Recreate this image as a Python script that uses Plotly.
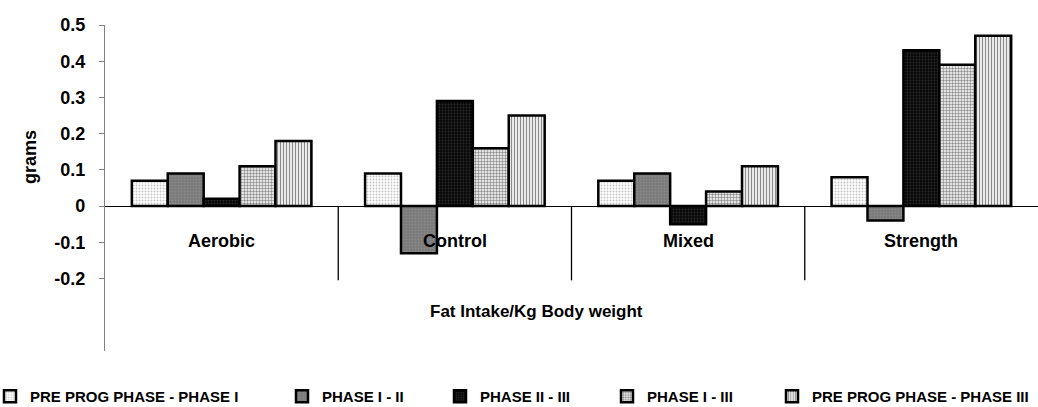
import plotly.graph_objects as go

categories = ["Aerobic", "Control", "Mixed", "Strength"]
series_names = ["PRE PROG PHASE - PHASE I", "PHASE I - II", "PHASE II - III",
                "PHASE I - III", "PRE PROG PHASE - PHASE III"]
pre_phase1 = [0.07, 0.09, 0.07, 0.08]
phase1_2 = [0.09, -0.13, 0.09, -0.04]
phase2_3 = [0.02, 0.29, -0.05, 0.43]
phase1_3 = [0.11, 0.16, 0.04, 0.39]
pre_phase3 = [0.18, 0.25, 0.11, 0.47]
series_values = [pre_phase1, phase1_2, phase2_3, phase1_3, pre_phase3]
y_tickvals = [-0.2, -0.1, 0, 0.1, 0.2, 0.3, 0.4, 0.5]
y_ticktext = ["-0.2", "-0.1", "0", "0.1", "0.2", "0.3", "0.4", "0.5"]

FONT = "Arial, Liberation Sans, sans-serif"
W, H = 1038, 407
L, R, T, B = 105, 0, 25, 56
PW, PH = W - L - R, H - T - B

patterns = [
    dict(shape=".", bgcolor="#ffffff", fgcolor="#c4c4c4", size=3, solidity=0.3),
    dict(shape=".", bgcolor="#7a7a7a", fgcolor="#8a8a8a", size=3, solidity=0.3),
    dict(shape=".", bgcolor="#080808", fgcolor="#2a2a2a", size=3, solidity=0.3),
    dict(shape=".", bgcolor="#ffffff", fgcolor="#8c8c8c", size=3, solidity=0.5),
    dict(shape="|", bgcolor="#ffffff", fgcolor="#8a8a8a", size=3, solidity=0.45),
]
fill_colors = ["#ffffff", "#7a7a7a", "#080808", "#ffffff", "#ffffff"]

# legend item left positions (pixels) of the symbol box
legend_box_x = [5, 297, 455, 622, 787]

fig = go.Figure()
for i, (name, vals) in enumerate(zip(series_names, series_values)):
    lg = "legend" if i == 0 else f"legend{i+1}"
    fig.add_trace(go.Bar(
        x=categories, y=vals, name=name,
        marker=dict(color=fill_colors[i], pattern=patterns[i],
                    line=dict(color="#000000", width=2.5)),
        legend=lg, showlegend=True,
    ))

layout_legends = {}
for i, bx in enumerate(legend_box_x):
    key = "legend" if i == 0 else f"legend{i+1}"
    layout_legends[key] = dict(
        xref="paper", yref="container",
        x=(bx - 15 - L) / PW, y=1 - 380 / H,
        xanchor="left", yanchor="top",
        bgcolor="rgba(0,0,0,0)", borderwidth=0,
        font=dict(family=FONT, size=15, color="#000000", weight="bold"),
        itemwidth=30, visible=True,
    )

# category separators (between categories, from 0 down to -0.2)
shapes = []
for k in range(1, len(categories)):
    shapes.append(dict(type="line", xref="x", yref="y",
                       x0=k - 0.5, x1=k - 0.5, y0=0, y1=-0.205,
                       line=dict(color="#000000", width=1.3)))

annotations = []
for c in categories:
    annotations.append(dict(x=c, y=-0.095, xref="x", yref="y", text=c,
                            showarrow=False,
                            font=dict(family=FONT, size=18, color="#000000", weight="bold"),
                            yanchor="middle"))
annotations.append(dict(x=(536 - L) / PW, y=(T + PH - 311) / PH,
                        xref="paper", yref="paper",
                        text="Fat Intake/Kg Body weight", showarrow=False,
                        xanchor="center", yanchor="middle",
                        font=dict(family=FONT, size=17, color="#000000", weight="bold")))
annotations.append(dict(x=(30 - L) / PW, y=(T + PH - 157) / PH,
                        xref="paper", yref="paper",
                        text="grams", showarrow=False, textangle=-90,
                        xanchor="center", yanchor="middle",
                        font=dict(family=FONT, size=18, color="#000000", weight="bold")))

fig.update_layout(
    width=W, height=H,
    margin=dict(l=L, r=R, t=T, b=B, autoexpand=False),
    paper_bgcolor="#ffffff", plot_bgcolor="#ffffff",
    barmode="group", bargap=0.23, bargroupgap=0,
    font=dict(family=FONT, color="#000000"),
    shapes=shapes, annotations=annotations, showlegend=True,
    **layout_legends,
)
fig.update_xaxes(showticklabels=False, showline=False, showgrid=False, zeroline=False,
                 ticks="", range=[-0.5, len(categories) - 0.5])
fig.update_yaxes(range=[-0.4, 0.5], tickvals=y_tickvals, ticktext=y_ticktext,
                 showgrid=False, zeroline=True, zerolinecolor="#000000", zerolinewidth=1,
                 showline=True, linecolor="#808080", linewidth=1.3,
                 ticks="outside", ticklen=5, tickcolor="#808080",
                 tickfont=dict(family=FONT, size=18, color="#000000", weight="bold"),
                 ticklabelstandoff=10)
fig.update_traces(marker_pattern_fillmode="replace")
fig.write_html("out.html", config={"displayModeBar": False},
               post_script="document.body.style.margin='0';document.body.style.padding='0';")
